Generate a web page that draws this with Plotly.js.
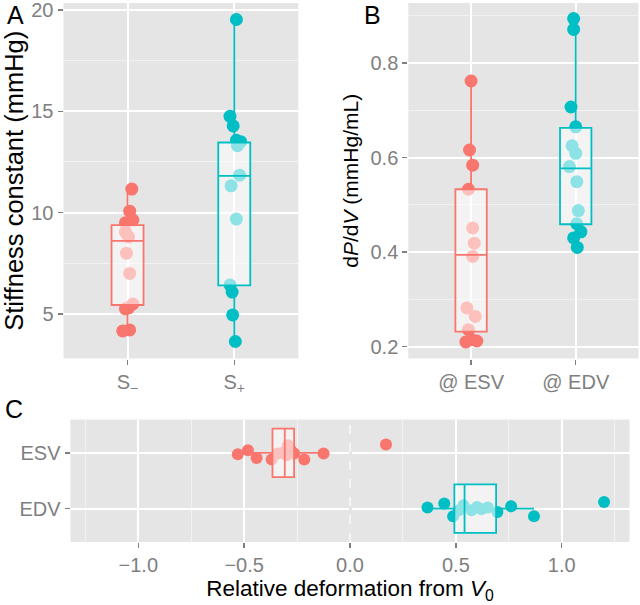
<!DOCTYPE html>
<html>
<head>
<meta charset="utf-8">
<script src="https://cdn.plot.ly/plotly-3.0.1.min.js"></script>
<style>html,body{margin:0;padding:0;background:#fff;}#chart{width:640px;height:605px;}</style>
</head>
<body>
<div id="chart"></div>
<script>
// ---------- Panel A: stiffness constant (mmHg) ----------
const catsA = ["S<sub>−</sub>", "S<sub>+</sub>"];
const stiffMinus = [11.16, 10.07, 9.63, 9.50, 9.04, 8.80, 8.00, 7.00, 5.49, 5.30, 5.25, 4.21, 4.16];
const stiffMinusJit = [0.04, 0.02, 0.05, -0.02, -0.02, 0.01, -0.01, 0.02, 0.05, 0.01, -0.02, 0.02, -0.045];
const stiffPlus = [19.53, 14.75, 14.28, 13.57, 13.50, 13.30, 11.85, 11.32, 9.68, 6.43, 6.08, 4.95, 3.64];
const stiffPlusJit = [0.02, -0.04, -0.01, 0.02, 0.06, 0.03, 0.05, -0.03, 0.02, -0.04, -0.02, -0.015, 0.01];
// box stats [q1, median, q3, lower whisker, upper whisker]
const boxA_minus = [5.44, 8.61, 9.38, 4.16, 11.16];
const boxA_plus = [6.41, 11.81, 13.46, 3.64, 19.53];

// ---------- Panel B: dP/dV (mmHg/mL) ----------
const catsB = ["@ ESV", "@ EDV"];
const dpdvESV = [0.762, 0.616, 0.584, 0.533, 0.451, 0.419, 0.391, 0.282, 0.264, 0.236, 0.215, 0.212, 0.210];
const dpdvESVJit = [0, -0.015, 0.015, -0.025, 0.015, 0.03, 0.015, -0.04, 0.04, -0.025, 0.005, 0.055, -0.05];
const dpdvEDV = [0.894, 0.871, 0.707, 0.665, 0.625, 0.609, 0.581, 0.549, 0.488, 0.460, 0.443, 0.430, 0.410];
const dpdvEDVJit = [-0.02, -0.02, -0.045, 0, -0.035, 0, -0.06, 0.01, 0.025, 0.01, 0.05, -0.02, 0.015];
const boxB_ESV = [0.232, 0.394, 0.533, 0.210, 0.762];
const boxB_EDV = [0.459, 0.577, 0.663, 0.410, 0.894];

// ---------- Panel C: relative deformation from V0 ----------
const catsC = ["EDV", "ESV"];
const defESV = [-0.530, -0.482, -0.441, -0.370, -0.341, -0.310, -0.300, -0.293, -0.279, -0.264, -0.216, -0.125, 0.170];
const defESVJit = [-0.024, 0.048, -0.09, -0.12, -0.012, 0.02, -0.04, 0.138, 0.048, -0.012, -0.12, -0.012, 0.15];
const defEDV = [0.366, 0.445, 0.487, 0.515, 0.536, 0.574, 0.600, 0.620, 0.651, 0.696, 0.761, 0.869, 1.200];
const defEDVJit = [0.018, 0.09, -0.138, -0.03, 0.06, -0.03, 0.03, -0.01, 0.018, -0.06, 0.042, -0.138, 0.12];
const boxC_ESV = [-0.366, -0.308, -0.264, -0.530, -0.125];
const boxC_EDV = [0.493, 0.541, 0.690, 0.366, 0.869];

const RED = "#F8766D", TEAL = "#00BFC4";
const W = 640, H = 605;
const FONT = "Liberation Sans, Arial, Helvetica, sans-serif";
const TICKC = "#7F7F7F";

function pts(vals, jit, pos, color, xa, ya, horiz, size) {
  const p = vals.map((v, i) => pos + jit[i]);
  return {
    type: "scatter", mode: "markers",
    x: horiz ? vals : p, y: horiz ? p : vals,
    xaxis: xa, yaxis: ya,
    marker: {color: color, size: size, line: {width: 0}},
    hoverinfo: "skip", showlegend: false
  };
}
function box(st, pos, color, xa, ya, horiz, width) {
  const t = {
    type: "box",
    q1: [st[0]], median: [st[1]], q3: [st[2]], lowerfence: [st[3]], upperfence: [st[4]],
    xaxis: xa, yaxis: ya, width: width,
    boxpoints: false, whiskerwidth: 0,
    line: {color: color, width: 1.8},
    fillcolor: "rgba(255,255,255,0.55)",
    hoverinfo: "skip", showlegend: false
  };
  if (horiz) { t.orientation = "h"; t.y = [pos]; } else { t.x = [pos]; }
  return t;
}

const data = [
  pts(stiffMinus, stiffMinusJit, 1, RED, "x", "y", false, 13),
  pts(stiffPlus, stiffPlusJit, 2, TEAL, "x", "y", false, 13),
  pts(dpdvESV, dpdvESVJit, 1, RED, "x2", "y2", false, 13),
  pts(dpdvEDV, dpdvEDVJit, 2, TEAL, "x2", "y2", false, 13),
  pts(defESV, defESVJit, 2, RED, "x3", "y3", true, 12),
  pts(defEDV, defEDVJit, 1, TEAL, "x3", "y3", true, 12),
  box(boxA_minus, 1, RED, "x4", "y4", false, 0.3),
  box(boxA_plus, 2, TEAL, "x4", "y4", false, 0.3),
  box(boxB_ESV, 1, RED, "x5", "y5", false, 0.3),
  box(boxB_EDV, 2, TEAL, "x5", "y5", false, 0.3),
  box(boxC_ESV, 2, RED, "x6", "y6", true, 0.87),
  box(boxC_EDV, 1, TEAL, "x6", "y6", true, 0.87)
];

const tickFont = {family: FONT, size: 20, color: TICKC};
function ax(extra) {
  return Object.assign({
    showgrid: true, gridcolor: "#FFFFFF", gridwidth: 2,
    zeroline: false, showline: false,
    ticks: "outside", ticklen: 5, tickwidth: 1.3, tickcolor: TICKC,
    tickfont: tickFont, fixedrange: true, ticklabeloverflow: "allow"
  }, extra);
}
function minorGrid(vals) {
  return {tickmode: "array", tickvals: vals, showgrid: true, gridcolor: "#F2F2F2", gridwidth: 1, ticks: ""};
}
function hidden(extra) {
  return Object.assign({visible: false, showgrid: false, zeroline: false, fixedrange: true}, extra);
}

const xA = [63.5 / W, 298.3 / W], yAB = [1 - 358.5 / H, 1 - 3 / H];
const xB = [408.3 / W, 638.5 / W];
const xC = [70.5 / W, 629.5 / W], yC = [1 - 542 / H, 1 - 419.5 / H];
const rA = [2.8, 20.345], rB = [0.175, 0.927], rCx = [-1.32, 1.32], rCat = [0.4, 2.6];

const layout = {
  width: W, height: H,
  margin: {l: 0, r: 0, t: 0, b: 0, pad: 0},
  paper_bgcolor: "#FFFFFF", plot_bgcolor: "#E5E5E5",
  font: {family: FONT, color: "#000"},
  showlegend: false,
  xaxis: ax({domain: xA, range: rCat, anchor: "y", tickmode: "array", tickvals: [1, 2], ticktext: catsA}),
  yaxis: ax({domain: yAB, range: rA, anchor: "x", tickmode: "array", tickvals: [5, 10, 15, 20],
    minor: minorGrid([7.5, 12.5, 17.5]),
    title: {text: "Stiffness constant (mmHg)", font: {family: FONT, size: 25.5, color: "#000"}, standoff: 7}}),
  xaxis2: ax({domain: xB, range: rCat, anchor: "y2", tickmode: "array", tickvals: [1, 2], ticktext: catsB}),
  yaxis2: ax({domain: yAB, range: rB, anchor: "x2", tickmode: "array", tickvals: [0.2, 0.4, 0.6, 0.8], ticktext: ["0.2", "0.4", "0.6", "0.8"],
    minor: minorGrid([0.3, 0.5, 0.7, 0.9]),
    title: {text: "d<i>P</i>/d<i>V</i> (mmHg/mL)", font: {family: FONT, size: 21, color: "#000"}, standoff: 6}}),
  xaxis3: ax({domain: xC, range: rCx, anchor: "y3", tickmode: "array", tickvals: [-1, -0.5, 0, 0.5, 1],
    ticktext: ["−1.0", "−0.5", "0.0", "0.5", "1.0"],
    zeroline: true, zerolinecolor: "#E5E5E5", zerolinewidth: 3,
    minor: minorGrid([-1.25, -0.75, -0.25, 0.25, 0.75, 1.25]),
    title: {text: "Relative deformation from <i>V</i><sub>0</sub>", font: {family: FONT, size: 22.5, color: "#000"}, standoff: 0}}),
  yaxis3: ax({domain: yC, range: rCat, anchor: "x3", tickmode: "array", tickvals: [1, 2], ticktext: catsC}),
  xaxis4: hidden({overlaying: "x", range: rCat, anchor: "y4"}),
  yaxis4: hidden({overlaying: "y", range: rA, anchor: "x4"}),
  xaxis5: hidden({overlaying: "x2", range: rCat, anchor: "y5"}),
  yaxis5: hidden({overlaying: "y2", range: rB, anchor: "x5"}),
  xaxis6: hidden({overlaying: "x3", range: rCx, anchor: "y6"}),
  yaxis6: hidden({overlaying: "y3", range: rCat, anchor: "x6"}),
  shapes: [{
    type: "line", xref: "x3", yref: "y3 domain", x0: 0, x1: 0, y0: 0, y1: 1,
    line: {color: "#FFFFFF", width: 1.2, dash: "dash"}, layer: "above"
  }],
  annotations: [
    {text: "A", xref: "paper", yref: "paper", x: 15 / W, y: 1 - 15 / H, showarrow: false, xanchor: "center", yanchor: "middle", font: {family: FONT, size: 25, color: "#000"}},
    {text: "B", xref: "paper", yref: "paper", x: 372 / W, y: 1 - 15 / H, showarrow: false, xanchor: "center", yanchor: "middle", font: {family: FONT, size: 25, color: "#000"}},
    {text: "C", xref: "paper", yref: "paper", x: 14 / W, y: 1 - 409 / H, showarrow: false, xanchor: "center", yanchor: "middle", font: {family: FONT, size: 25, color: "#000"}}
  ]
};

Plotly.newPlot("chart", data, layout, {staticPlot: true, displayModeBar: false});
</script>
</body>
</html>
